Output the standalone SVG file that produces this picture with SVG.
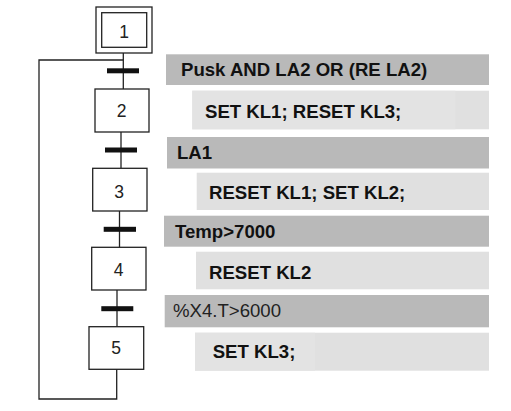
<svg xmlns="http://www.w3.org/2000/svg" width="511" height="411" viewBox="0 0 511 411">
<style>
.step{fill:#fff;stroke:#222;stroke-width:1.3}
.num{font-family:"Liberation Sans",Arial,sans-serif;font-size:17.5px;fill:#222;text-anchor:middle}
.ln{fill:none;stroke:#222;stroke-width:1.3}
.bar{fill:#111}
.cond{fill:#b9b9b9}
.act{fill:#e0e0e0}
.t{font-family:"Liberation Sans",Arial,sans-serif;font-size:18.6px;font-weight:bold;fill:#111}
.tr{font-weight:normal;fill:#222}
</style>
<rect width="511" height="411" fill="#fff"/>
<g id="connectors">
<path class="ln" d="M123.3 53 V89"/>
<path class="ln" d="M121 132 V168.3"/>
<path class="ln" d="M119.5 211 V247.3"/>
<path class="ln" d="M117 290 V326.7"/>
<path class="ln" d="M116.7 369.3 V399 H39 V60 H123.3"/>
<rect class="bar" x="107" y="68.3" width="32" height="5"/>
<rect class="bar" x="105" y="147.5" width="32" height="5"/>
<rect class="bar" x="103.7" y="226.8" width="32.3" height="5"/>
<rect class="bar" x="101.3" y="306.2" width="32" height="5"/>
</g>
<g id="step1">
<rect class="step" x="96" y="7" width="56" height="46"/>
<rect class="step" x="101.7" y="12.7" width="45" height="34.6"/>
<text class="num" x="124" y="38">1</text>
</g>
<g id="step2">
<rect class="step" x="95" y="89" width="54" height="43"/>
<text class="num" x="121.5" y="117">2</text>
</g>
<g id="step3">
<rect class="step" x="92.7" y="168.3" width="54.3" height="42.7"/>
<text class="num" x="119" y="198">3</text>
</g>
<g id="step4">
<rect class="step" x="91.7" y="247.3" width="54.3" height="42.7"/>
<text class="num" x="118.5" y="276">4</text>
</g>
<g id="step5">
<rect class="step" x="89" y="326.7" width="54.7" height="42.6"/>
<text class="num" x="116" y="354">5</text>
</g>
<g id="cond1">
<rect class="cond" x="166" y="54.3" width="323" height="30.7"/>
<text class="t" x="181" y="75.5">Pusk AND LA2 OR (RE LA2)</text>
</g>
<g id="act2">
<rect class="act" x="192.3" y="90.7" width="296.7" height="38.6"/>
<rect x="192.3" y="90.7" width="263" height="38.6" fill="#e3e3e3"/>
<text class="t" x="205" y="118">SET KL1; RESET KL3;</text>
</g>
<g id="cond2">
<rect class="cond" x="167" y="137" width="322" height="31.5"/>
<text class="t" x="177" y="159">LA1</text>
</g>
<g id="act3">
<rect class="act" x="196.7" y="172.7" width="292.3" height="37.3"/>
<text class="t" x="209" y="199">RESET KL1; SET KL2;</text>
</g>
<g id="cond3">
<rect class="cond" x="164" y="215.7" width="325" height="31"/>
<text class="t" x="175" y="238">Temp&gt;7000</text>
</g>
<g id="act4">
<rect class="act" x="196" y="251.7" width="293" height="37.6"/>
<text class="t" x="209" y="278.5">RESET KL2</text>
</g>
<g id="cond4">
<rect class="cond" x="164.7" y="295" width="324.3" height="32.3"/>
<text class="t tr" x="173" y="316.5">%X4.T&gt;6000</text>
</g>
<g id="act5">
<rect class="act" x="195" y="332.7" width="294" height="38"/>
<rect x="195" y="332.7" width="120" height="38" fill="#e3e3e3"/>
<text class="t" x="212.7" y="357.5">SET KL3;</text>
</g>
</svg>
